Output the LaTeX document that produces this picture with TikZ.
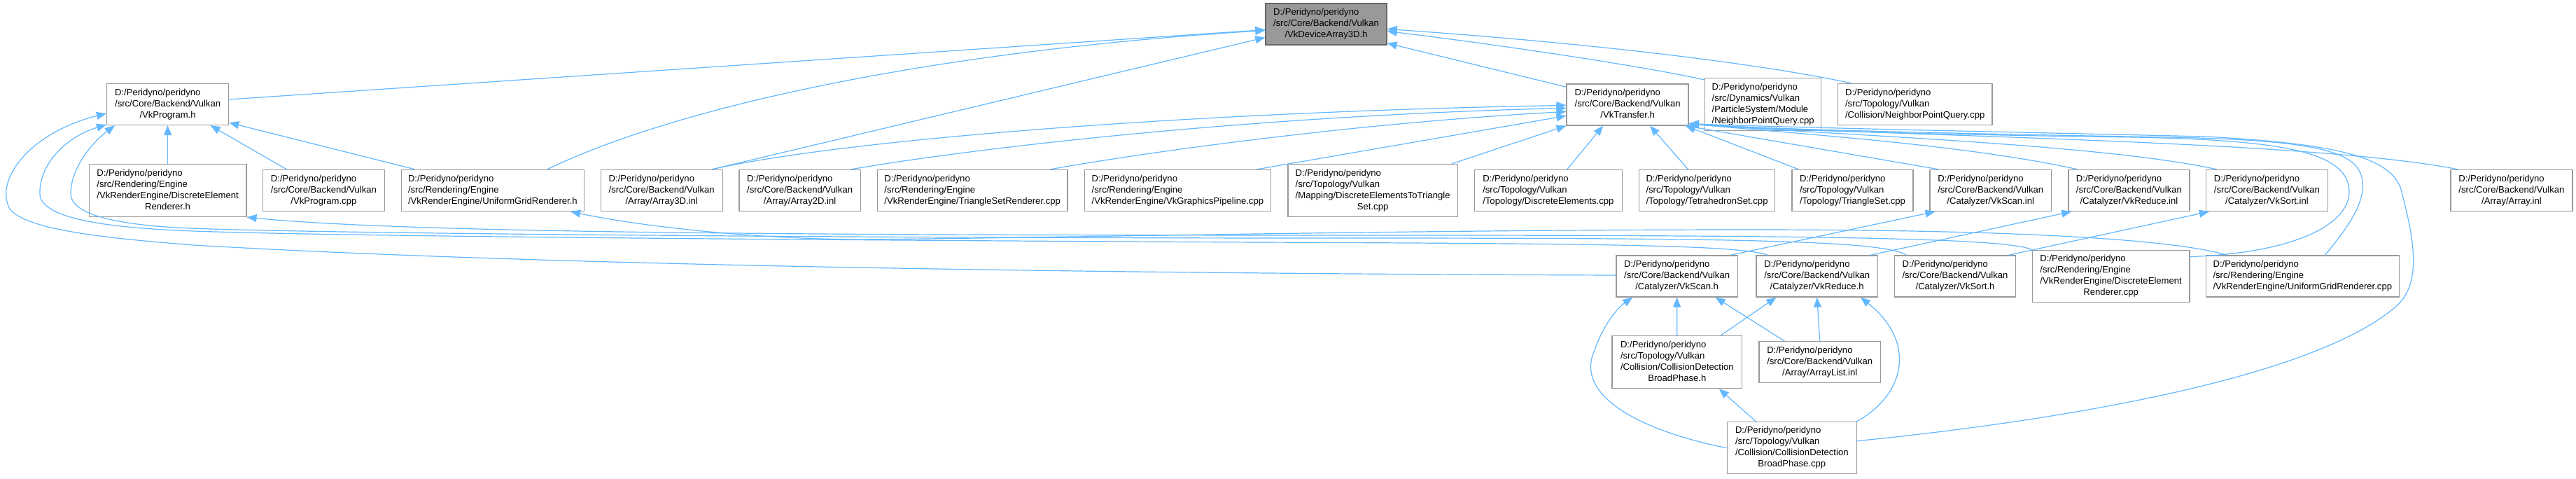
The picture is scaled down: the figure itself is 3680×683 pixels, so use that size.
\documentclass[tikz,border=0pt]{standalone}
\usepackage{fontspec}
\setmainfont{Liberation Sans}
\usetikzlibrary{arrows.meta,calc}
\definecolor{edgec}{HTML}{63B8FF}
\definecolor{nodeb}{HTML}{999999}
\definecolor{rootf}{HTML}{999999}
\definecolor{rootb}{HTML}{666666}
\newcommand{\nt}[2]{\begin{tabular}{@{}l@{}}#1\\\multicolumn{1}{@{}c@{}}{#2}\end{tabular}}
\tikzset{
 nd/.style={draw=nodeb, line width=1.3pt, fill=white, inner xsep=6pt, inner ysep=2pt,
   font=\fontsize{13.1pt}{16pt}\selectfont, minimum height=59pt},
 nd4/.style={nd, minimum height=75pt},
 rootnd/.style={nd, fill=rootf, draw=rootb},
 edge/.style={draw=edgec, line width=1.2pt, -{Triangle[length=14pt,width=11pt]}},
}
\begin{document}
\begin{tikzpicture}[x=1pt,y=-1pt]
\fill[white] (0,0) rectangle (3680,683);
\useasboundingbox (0,0) rectangle (3680,683);
% nodes
\node[rootnd, minimum width=173pt] (root) at (1894.5,34.5) {\nt{D:/Peridyno/peridyno\\/src/Core/Backend/Vulkan}{/VkDeviceArray3D.h}};
\node[nd, minimum width=174pt] (prog) at (239.6,149) {\nt{D:/Peridyno/peridyno\\/src/Core/Backend/Vulkan}{/VkProgram.h}};
\node[nd, minimum width=174pt] (transfer) at (2325.1,149.4) {\nt{D:/Peridyno/peridyno\\/src/Core/Backend/Vulkan}{/VkTransfer.h}};
\node[nd4, minimum width=166pt] (npqd) at (2518.7,149.2) {\nt{D:/Peridyno/peridyno\\/src/Dynamics/Vulkan\\/ParticleSystem/Module}{/NeighborPointQuery.cpp}};
\node[nd, minimum width=220.6pt] (npqc) at (2735.7,149) {\nt{D:/Peridyno/peridyno\\/src/Topology/Vulkan}{/Collision/NeighborPointQuery.cpp}};
\node[nd4, minimum width=224.6pt] (derh) at (239.6,272) {\nt{D:/Peridyno/peridyno\\/src/Rendering/Engine\\/VkRenderEngine/DiscreteElement}{Renderer.h}};
\node[nd, minimum width=173.6pt] (progcpp) at (462.4,272) {\nt{D:/Peridyno/peridyno\\/src/Core/Backend/Vulkan}{/VkProgram.cpp}};
\node[nd, minimum width=261.2pt] (ugrh) at (703.9,272) {\nt{D:/Peridyno/peridyno\\/src/Rendering/Engine}{/VkRenderEngine/UniformGridRenderer.h}};
\node[nd, minimum width=174pt] (a3d) at (945.2,272) {\nt{D:/Peridyno/peridyno\\/src/Core/Backend/Vulkan}{/Array/Array3D.inl}};
\node[nd, minimum width=173.4pt] (a2d) at (1142.6,272) {\nt{D:/Peridyno/peridyno\\/src/Core/Backend/Vulkan}{/Array/Array2D.inl}};
\node[nd, minimum width=271.6pt] (tsr) at (1389.2,272) {\nt{D:/Peridyno/peridyno\\/src/Rendering/Engine}{/VkRenderEngine/TriangleSetRenderer.cpp}};
\node[nd, minimum width=266.5pt] (vgp) at (1682.4,272) {\nt{D:/Peridyno/peridyno\\/src/Rendering/Engine}{/VkRenderEngine/VkGraphicsPipeline.cpp}};
\node[nd4, minimum width=242.4pt] (de2ts) at (1961.1,272) {\nt{D:/Peridyno/peridyno\\/src/Topology/Vulkan\\/Mapping/DiscreteElementsToTriangle}{Set.cpp}};
\node[nd, minimum width=210.8pt] (dec) at (2211.8,272) {\nt{D:/Peridyno/peridyno\\/src/Topology/Vulkan}{/Topology/DiscreteElements.cpp}};
\node[nd, minimum width=194.3pt] (tet) at (2438.5,272) {\nt{D:/Peridyno/peridyno\\/src/Topology/Vulkan}{/Topology/TetrahedronSet.cpp}};
\node[nd, minimum width=172.8pt] (tri) at (2646.5,272) {\nt{D:/Peridyno/peridyno\\/src/Topology/Vulkan}{/Topology/TriangleSet.cpp}};
\node[nd, minimum width=173.2pt] (scaninl) at (2843.7,272) {\nt{D:/Peridyno/peridyno\\/src/Core/Backend/Vulkan}{/Catalyzer/VkScan.inl}};
\node[nd, minimum width=173.1pt] (redinl) at (3041.4,272) {\nt{D:/Peridyno/peridyno\\/src/Core/Backend/Vulkan}{/Catalyzer/VkReduce.inl}};
\node[nd, minimum width=174pt] (sortinl) at (3238.4,272) {\nt{D:/Peridyno/peridyno\\/src/Core/Backend/Vulkan}{/Catalyzer/VkSort.inl}};
\node[nd, minimum width=174pt] (arrinl) at (3587.9,272) {\nt{D:/Peridyno/peridyno\\/src/Core/Backend/Vulkan}{/Array/Array.inl}};
\node[nd, minimum width=173.3pt] (scanh) at (2395.6,394.5) {\nt{D:/Peridyno/peridyno\\/src/Core/Backend/Vulkan}{/Catalyzer/VkScan.h}};
\node[nd, minimum width=173.2pt] (redh) at (2595.7,394.5) {\nt{D:/Peridyno/peridyno\\/src/Core/Backend/Vulkan}{/Catalyzer/VkReduce.h}};
\node[nd, minimum width=173.2pt] (sorth) at (2793,394.5) {\nt{D:/Peridyno/peridyno\\/src/Core/Backend/Vulkan}{/Catalyzer/VkSort.h}};
\node[nd4, minimum width=224.6pt, minimum height=74.4pt] (dercpp) at (3015.6,394.5) {\nt{D:/Peridyno/peridyno\\/src/Rendering/Engine\\/VkRenderEngine/DiscreteElement}{Renderer.cpp}};
\node[nd, minimum width=275.8pt] (ugrcpp) at (3289.3,394.5) {\nt{D:/Peridyno/peridyno\\/src/Rendering/Engine}{/VkRenderEngine/UniformGridRenderer.cpp}};
\node[nd4, minimum width=185.6pt] (cdbph) at (2395.8,517) {\nt{D:/Peridyno/peridyno\\/src/Topology/Vulkan\\/Collision/CollisionDetection}{BroadPhase.h}};
\node[nd, minimum width=173.2pt] (alinl) at (2599.7,517.3) {\nt{D:/Peridyno/peridyno\\/src/Core/Backend/Vulkan}{/Array/ArrayList.inl}};
\node[nd4, minimum width=185.1pt, minimum height=74pt] (cdbpcpp) at (2559.8,639.7) {\nt{D:/Peridyno/peridyno\\/src/Topology/Vulkan\\/Collision/CollisionDetection}{BroadPhase.cpp}};
% edges to root
\draw[edge] ($(prog.east)+(0,-7)$) -- ($(root.west)+(0,8)$);
\draw[edge] ($(ugrh.north)+(78,0)$) .. controls (950,160) and (1300,75) .. ($(root.west)+(0,9)$);
\draw[edge] ($(a3d.north)+(72,0)$) -- ($(root.west)+(0,19)$);
\draw[edge] ($(transfer.north west)+(0,5)$) -- ($(root.south east)+(0,-3)$);
\draw[edge] ($(npqd.north west)+(0,3)$) .. controls (2350,95) and (2150,65) .. ($(root.east)+(0,10)$);
\draw[edge] ($(npqc.north west)+(20,0)$) .. controls (2500,88) and (2250,60) .. ($(root.east)+(0,7)$);
% edges to VkProgram.h
\draw[edge] (derh.north) -- (prog.south);
\draw[edge] ($(progcpp.north)+(-53,0)$) -- ($(prog.south)+(61,0)$);
\draw[edge] ($(ugrh.north)+(-111,0)$) -- ($(prog.south east)+(0,-4)$);
\draw[edge] ($(scanh.west)+(0,-1.5)$) .. controls (1400,390) and (700,375) .. (277,350)
   .. controls (120,338) and (40,325) .. (15,300) .. controls (-10,260) and (40,190) .. ($(prog.west)+(0,13)$);
\draw[edge] ($(redh.north west)+(17,0)$) .. controls (2485,350) and (2300,348) .. (1800,346)
   .. controls (1200,343) and (500,338) .. (277,330) .. controls (140,325) and (60,310) .. (57,278)
   .. controls (55,235) and (95,195) .. ($(prog.south west)+(0,-1)$);
\draw[edge] ($(sorth.north west)+(18,0)$) .. controls (2690,342) and (2450,340) .. (1900,340)
   .. controls (1200,340) and (400,333) .. (250,325) .. controls (140,318) and (100,300) .. (101,275)
   .. controls (102,240) and (130,205) .. ($(prog.south west)+(12,0)$);
% renderer headers
\draw[edge] (dercpp.north west) .. controls (2870,340) and (2600,336) .. (2000,336)
   .. controls (1300,336) and (600,335) .. (derh.south east);
\draw[edge] ($(ugrcpp.north west)+(31,0)$) .. controls (3110,343) and (2900,328) .. (2500,328)
   .. controls (2000,328) and (1500,340) .. (1220,342) .. controls (1050,340) and (900,320) .. ($(ugrh.south east)+(-20,0)$);
% edges to VkTransfer.h (left)
\draw[edge] ($(a3d.north)+(72,0)$) .. controls (1200,200) and (1700,160) .. ($(transfer.west)+(0,1)$);
\draw[edge] ($(a2d.north)+(73,0)$) .. controls (1400,210) and (1800,165) .. ($(transfer.west)+(0,5)$);
\draw[edge] ($(tsr.north)+(111,0)$) .. controls (1650,215) and (1950,175) .. ($(transfer.west)+(0,10)$);
\draw[edge] ($(vgp.north)+(113,0)$) -- ($(transfer.west)+(0,16)$);
\draw[edge] ($(de2ts.north east)+(-9,0)$) -- (transfer.south west);
\draw[edge] ($(dec.north)+(27,0)$) -- ($(transfer.south)+(-35,0)$);
\draw[edge] ($(tet.north)+(-27,0)$) -- ($(transfer.south)+(32,0)$);
% edges to VkTransfer.h (right cluster)
\draw[edge] ($(tri.north west)+(10,0)$) -- ($(transfer.south east)+(-5,0)$);
\draw[edge] ($(scaninl.north west)+(13,0)$) -- ($(transfer.south east)+(-5,0)$);
\draw[edge] ($(redinl.north west)+(14,0)$) .. controls (2800,205) and (2550,190) .. ($(transfer.south east)+(0,-3)$);
\draw[edge] ($(sortinl.north west)+(16,0)$) .. controls (3000,205) and (2600,192) .. ($(transfer.south east)+(0,-3)$);
\draw[edge] ($(arrinl.north west)+(11,0)$) .. controls (3300,200) and (2700,195) .. ($(transfer.south east)+(0,-3)$);
\draw[edge] ($(dercpp.north east)+(0,10)$) .. controls (3300,360) and (3365,310) .. (3355,265)
   .. controls (3345,215) and (3250,200) .. (3050,196) .. controls (2750,192) and (2500,185) .. ($(transfer.south east)+(0,-3)$);
\draw[edge] ($(ugrcpp.north)+(32,0)$) .. controls (3350,330) and (3385,285) .. (3373,250)
   .. controls (3362,215) and (3300,200) .. (3100,196) .. controls (2800,191) and (2500,184) .. ($(transfer.south east)+(0,-3)$);
\draw[edge] ($(cdbpcpp.east)+(0,-10)$) .. controls (2950,600) and (3300,540) .. (3420,440)
   .. controls (3465,405) and (3445,330) .. (3430,270) .. controls (3415,225) and (3340,205) .. (3150,195)
   .. controls (2850,188) and (2550,182) .. ($(transfer.south east)+(0,-3)$);
% catalyzer headers to inl
\draw[edge] ($(scanh.north east)+(-11,0)$) -- ($(scaninl.south west)+(8,0)$);
\draw[edge] ($(redh.north east)+(-11,0)$) -- ($(redinl.south west)+(5,0)$);
\draw[edge] ($(sorth.north east)+(-11,0)$) -- ($(sortinl.south west)+(5,0)$);
% lower part
\draw[edge] (cdbph.north) -- (scanh.south);
\draw[edge] ($(cdbph.north east)+(-31,0)$) -- ($(redh.south west)+(29,0)$);
\draw[edge] ($(alinl.north west)+(37,0)$) -- ($(scanh.south)+(55,0)$);
\draw[edge] (alinl.north) -- (redh.south);
\draw[edge] ($(cdbpcpp.north west)+(42,0)$) -- ($(cdbph.south)+(60,0)$);
\draw[edge] ($(cdbpcpp.north east)+(-1,0)$) .. controls (2720,565) and (2740,490) .. ($(redh.south east)+(-25,0)$);
\draw[edge] (cdbpcpp.west) .. controls (2330,612) and (2250,560) .. (2278,500)
   .. controls (2290,465) and (2310,440) .. ($(scanh.south west)+(24,0)$);
\end{tikzpicture}
\end{document}
